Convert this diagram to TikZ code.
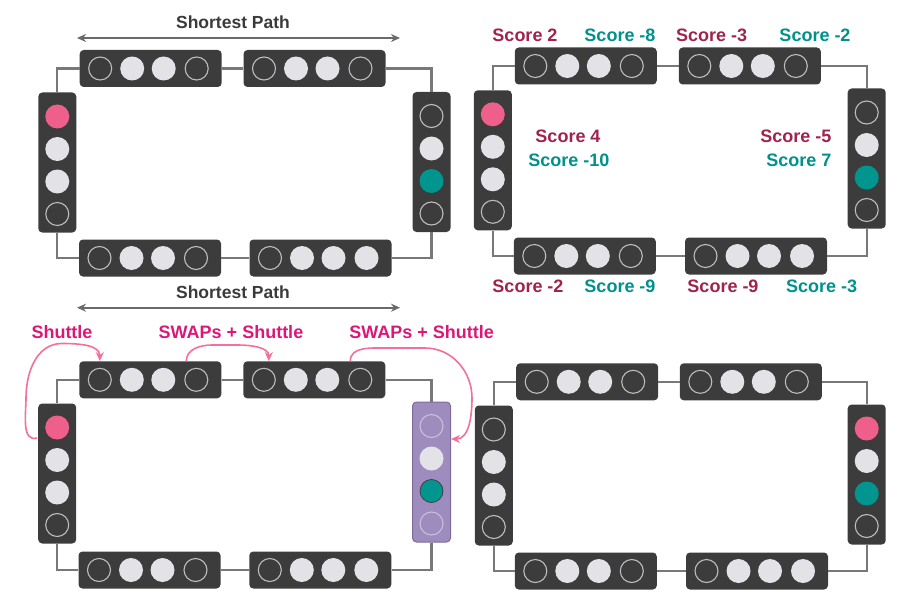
\documentclass[tikz,border=0pt]{standalone}
\usepackage{fontspec}
\setmainfont{Liberation Sans}
\usetikzlibrary{calc,arrows.meta}
\definecolor{trapc}{HTML}{3C3C3C}
\definecolor{ringc}{HTML}{BDBDBD}
\definecolor{lightq}{HTML}{E2E2E7}
\definecolor{pinkq}{HTML}{EF5F8B}
\definecolor{tealq}{HTML}{00968F}
\definecolor{wirec}{HTML}{787878}
\definecolor{purp}{HTML}{9F8CBE}
\definecolor{purpd}{HTML}{7D6B9C}
\definecolor{purpring}{HTML}{C9BEDB}
\definecolor{crim}{HTML}{A0234B}
\definecolor{tealt}{HTML}{00918B}
\definecolor{mag}{HTML}{DB1877}
\definecolor{arrp}{HTML}{F2709A}
\definecolor{titlec}{HTML}{3A3A3A}
\definecolor{patharr}{HTML}{6A6A6A}
\tikzset{
 trap/.style={fill=trapc, rounded corners=4pt, inner sep=0pt},
 ptrap/.style={fill=purp, draw=purpd, line width=1pt, rounded corners=4pt, inner sep=0pt},
 hsz/.style={minimum width=142pt, minimum height=37pt},
 vsz/.style={minimum width=38pt, minimum height=140pt},
 q/.style={circle, inner sep=0pt, minimum size=24pt},
 qd/.style={q, fill=trapc, draw=ringc, line width=1.1pt, minimum size=23pt},
 ql/.style={q, fill=lightq},
 qp/.style={q, fill=pinkq},
 qt/.style={q, fill=tealq},
 qtb/.style={q, fill=tealq, draw=black!75, line width=0.8pt, minimum size=23pt},
 qv/.style={qd, fill=purp, draw=purpring},
 wire/.style={draw=wirec, line width=2.2pt},
 lbl/.style={font=\fontsize{18}{20}\selectfont\bfseries, inner sep=0pt},
 ttl/.style={lbl, font=\fontsize{17.5}{20}\selectfont\bfseries, text=titlec},
 sc1/.style={lbl, text=crim},
 sc2/.style={lbl, text=tealt},
 mg/.style={lbl, text=mag},
 patharrow/.style={draw=patharr, line width=1.8pt, {Stealth[length=9pt,width=8pt]}-{Stealth[length=9pt,width=8pt]}},
 parrow/.style={draw=arrp, line width=1.6pt, -{Stealth[length=9pt,width=8pt]}},
}
% horizontal trap: name, x, y, four qubit styles
\newcommand\htrap[7]{%
 \node[trap,hsz] (#1) at (#2,#3) {};
 \node[#4] (#1-1) at ($(#1)+(-50.5,0)$) {};
 \node[#5] (#1-2) at ($(#1)+(-18.5,0)$) {};
 \node[#6] (#1-3) at ($(#1)+(13,0)$) {};
 \node[#7] (#1-4) at ($(#1)+(46,0)$) {};
}
% vertical trap: trap style, name, x, y, four qubit styles
\newcommand\vtrap[8]{%
 \node[#1,vsz] (#2) at (#3,#4) {};
 \node[#5] (#2-1) at ($(#2)+(0,-46)$) {};
 \node[#6] (#2-2) at ($(#2)+(0,-13.5)$) {};
 \node[#7] (#2-3) at ($(#2)+(0,19)$) {};
 \node[#8] (#2-4) at ($(#2)+(0,51.5)$) {};
}
\newcommand\wires[1]{%
 \draw[wire] (#1L.north) |- (#1T1.west);
 \draw[wire] (#1T1.east) -- (#1T1.east -| #1T2.west);
 \draw[wire] (#1T2.east) -| (#1R.north);
 \draw[wire] (#1R.south) |- (#1B2.east);
 \draw[wire] (#1B2.west) -- (#1B2.west -| #1B1.east);
 \draw[wire] (#1B1.west) -| (#1L.south);
}
\begin{document}
\begin{tikzpicture}[x=1pt,y=-1pt]
\useasboundingbox (0,0) rectangle (907,607);
% ---------- panel a (top left)
\node[ttl] (aTitle) at (233,22) {Shortest Path};
\coordinate (aPL) at (77,38);
\coordinate (aPR) at (400,38);
\draw[patharrow] (aPL) -- (aPR);
\htrap{aT1}{150.7}{68.5}{qd}{ql}{ql}{qd}
\htrap{aT2}{314.5}{68.5}{qd}{ql}{ql}{qd}
\vtrap{trap}{aL}{57.3}{162.5}{qp}{ql}{ql}{qd}
\vtrap{trap}{aR}{431.5}{162}{qd}{ql}{qt}{qd}
\htrap{aB1}{150}{258}{qd}{ql}{ql}{qd}
\htrap{aB2}{320.5}{258}{qd}{ql}{ql}{ql}
\wires{a}
% ---------- panel b (top right)
\htrap{bT1}{585.8}{66}{qd}{ql}{ql}{qd}
\htrap{bT2}{749.8}{66}{qd}{ql}{ql}{qd}
\vtrap{trap}{bL}{492.8}{160.3}{qp}{ql}{ql}{qd}
\vtrap{trap}{bR}{866.7}{158.5}{qd}{ql}{qt}{qd}
\htrap{bB1}{584.8}{256}{qd}{ql}{ql}{qd}
\htrap{bB2}{756}{256}{qd}{ql}{ql}{ql}
\wires{b}
\node[sc1] (s1) at (525,35) {Score 2};
\node[sc2] (s2) at (620,35) {Score -8};
\node[sc1] (s3) at (711.7,35) {Score -3};
\node[sc2] (s4) at (815,35) {Score -2};
\node[sc1] (s5) at (568,136.7) {Score 4};
\node[sc2] (s6) at (569,160.7) {Score -10};
\node[sc1, anchor=east] (s7) at (831.7,136.7) {Score -5};
\node[sc2, anchor=east] (s8) at (831.7,160.7) {Score 7};
\node[sc1] (s9) at (528,286.7) {Score -2};
\node[sc2] (s10) at (620,286.7) {Score -9};
\node[sc1] (s11) at (723,286.7) {Score -9};
\node[sc2] (s12) at (821.7,286.7) {Score -3};
% ---------- panel c (bottom left)
\node[ttl] (cTitle) at (233,292) {Shortest Path};
\coordinate (cPL) at (77,307.7);
\coordinate (cPR) at (400,307.7);
\draw[patharrow] (cPL) -- (cPR);
\htrap{cT1}{150.3}{379.8}{qd}{ql}{ql}{qd}
\htrap{cT2}{314.3}{379.8}{qd}{ql}{ql}{qd}
\vtrap{trap}{cL}{57.2}{473.5}{qp}{ql}{ql}{qd}
\vtrap{ptrap}{cR}{431.5}{472}{qv}{ql}{qtb}{qv}
\htrap{cB1}{149.5}{570}{qd}{ql}{ql}{qd}
\htrap{cB2}{320.3}{570}{qd}{ql}{ql}{ql}
\wires{c}
\node[mg] (m1) at (62,332) {Shuttle};
\node[mg] (m2) at (231,332) {SWAPs + Shuttle};
\node[mg] (m3) at (421.7,332) {SWAPs + Shuttle};
\coordinate (c1s) at (37,438);
\draw[parrow] (c1s) to[out=195,in=-90] (26,398) to[out=90,in=180] (62,343.5) to[out=0,in=90] (cT1-1 |- cT1.north);
\draw[parrow] ($(cT1-4 |- cT1.north)+(-10,0)$) to[out=90,in=180] (212,345) -- (238,345) to[out=0,in=90] ($(cT2-1 |- cT2.north)+(5,0)$);
\draw[parrow] ($(cT2-4 |- cT2.north)+(-10,0)$) to[out=90,in=180] (385,348) -- (425,348) to[out=0,in=90] (472,398) to[out=-90,in=0] ($(cR.east)+(0,-33)$);
% ---------- panel d (bottom right)
\htrap{dT1}{587.2}{381.8}{qd}{ql}{ql}{qd}
\htrap{dT2}{750.8}{381.8}{qd}{ql}{ql}{qd}
\vtrap{trap}{dL}{493.8}{475.5}{qd}{ql}{ql}{qd}
\vtrap{trap}{dR}{866.7}{474.5}{qp}{ql}{qt}{qd}
\htrap{dB1}{585.8}{571}{qd}{ql}{ql}{qd}
\htrap{dB2}{757}{571}{qd}{ql}{ql}{ql}
\wires{d}
\end{tikzpicture}
\end{document}
